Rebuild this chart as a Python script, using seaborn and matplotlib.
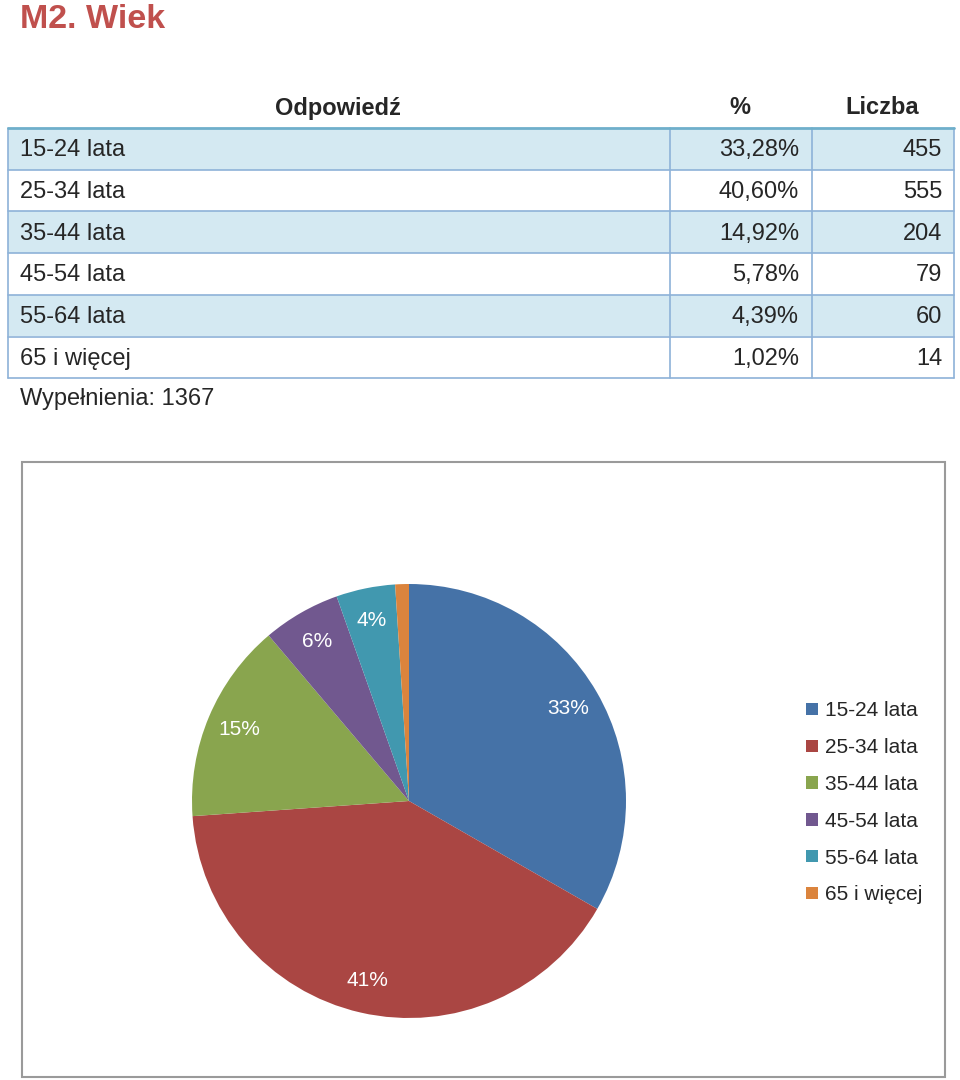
import matplotlib
matplotlib.use("Agg")
import matplotlib.pyplot as plt
from matplotlib.patches import Rectangle
import seaborn as sns

sns.set_theme(style="white")
plt.rcParams['font.family'] = ['Liberation Sans', 'DejaVu Sans']

# ---- data ----
categories = ["15-24 lata", "25-34 lata", "35-44 lata", "45-54 lata", "55-64 lata", "65 i więcej"]
percent_labels = ["33,28%", "40,60%", "14,92%", "5,78%", "4,39%", "1,02%"]
percent_values = [33.28, 40.60, 14.92, 5.78, 4.39, 1.02]
counts = [455, 555, 204, 79, 60, 14]
total = 1367
header = ["Odpowiedź", "%", "Liczba"]
title = "M2. Wiek"
colors = sns.color_palette(["#4572A7", "#AA4643", "#89A54E", "#71588F", "#4198AF", "#DB843D"])

W, H = 960, 1080
fig = plt.figure(figsize=(W / 100, H / 100), dpi=100)
bg = fig.add_axes([0, 0, 1, 1])
bg.set_xlim(0, W)
bg.set_ylim(H, 0)
bg.axis("off")

# title
bg.text(20, 19, title, color="#C0504D", fontsize=24.5, fontweight="bold", va="center", ha="left")

# header
hs = 17
bg.text(338, 108, header[0], fontsize=hs, fontweight="bold", ha="center", va="center")
bg.text(740, 108, header[1], fontsize=hs, fontweight="bold", ha="center", va="center")
bg.text(882, 108, header[2], fontsize=hs, fontweight="bold", ha="center", va="center")

# table
left, right = 8, 954
col1, col2 = 670, 812
top = 128
row_h = 41.7
grid_c = "#8EB2D8"
fs = 17
for i, cat in enumerate(categories):
    y0 = top + i * row_h
    fc = "#D4E9F2" if i % 2 == 0 else "white"
    bg.add_patch(Rectangle((left, y0), right - left, row_h, facecolor=fc, edgecolor="none", zorder=1))
    yc = y0 + row_h / 2 + 1.5
    bg.text(20, yc, cat, fontsize=fs, ha="left", va="center", zorder=3)
    bg.text(799, yc, percent_labels[i], fontsize=fs, ha="right", va="center", zorder=3)
    bg.text(942, yc, str(counts[i]), fontsize=fs, ha="right", va="center", zorder=3)
    bg.plot([left, right], [y0 + row_h, y0 + row_h], color=grid_c, lw=1.2, zorder=2)
bottom = top + len(categories) * row_h
for x in (left, col1, col2, right):
    bg.plot([x, x], [top, bottom], color=grid_c, lw=1.2, zorder=2)
bg.plot([left, right], [top, top], color="#6FAFCB", lw=2, zorder=2)

bg.text(20, 399, f"Wypełnienia: {total}", fontsize=fs, ha="left", va="center")

# chart frame
bg.add_patch(Rectangle((22, 462), 923, 615, facecolor="none", edgecolor="#9A9A9A", lw=1.5, zorder=1))

# pie
cx, cy, r = 409, 801, 217
pax = fig.add_axes([(cx - r) / W, (H - cy - r) / H, 2 * r / W, 2 * r / H])

def fmt(p):
    return f"{p:.0f}%" if p >= 2 else ""

wedges, _, autotexts = pax.pie(
    percent_values, colors=colors, startangle=90, counterclock=False,
    autopct=fmt, pctdistance=0.85, radius=1,
    wedgeprops=dict(linewidth=0),
    textprops=dict(color="white", fontsize=15),
)
pax.set_xlim(-1, 1)
pax.set_ylim(-1, 1)

leg = fig.legend(
    wedges, categories, loc="upper left", bbox_to_anchor=(798 / W, 1 - 693 / H),
    frameon=False, fontsize=15, handlelength=0.55, handleheight=0.55,
    handletextpad=0.35, labelspacing=0.855, borderaxespad=0,
)

fig.savefig("out.png", dpi=100)
